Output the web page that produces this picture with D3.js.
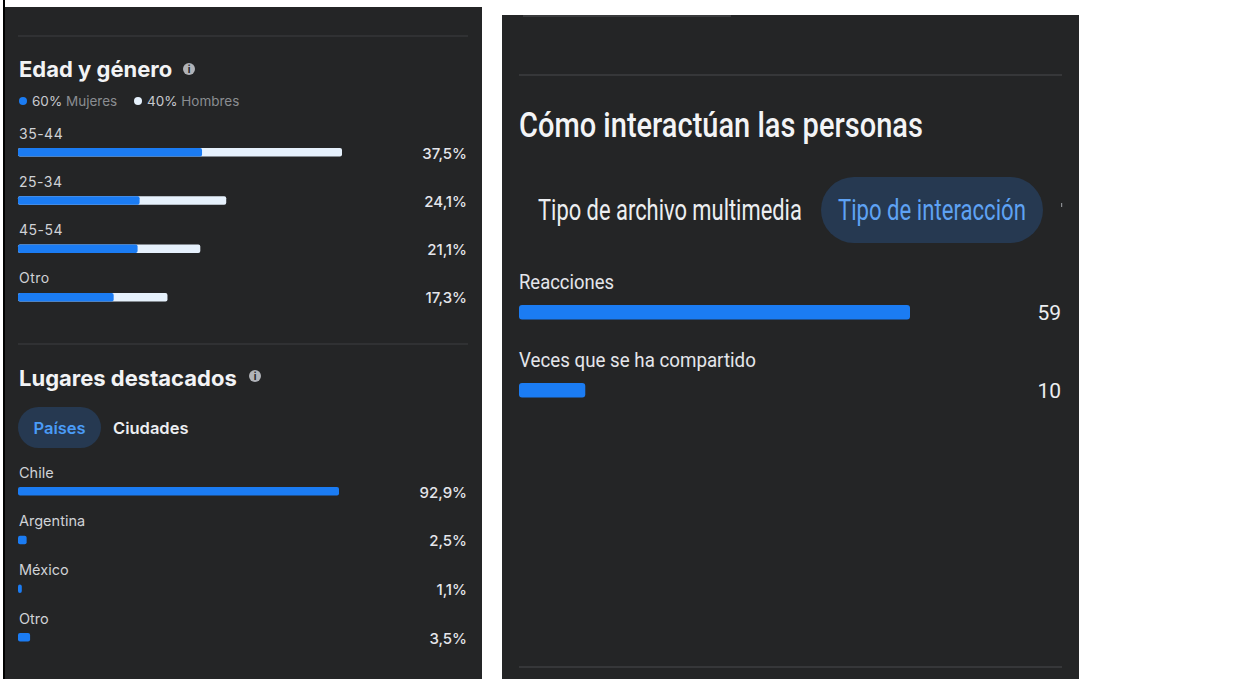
<!DOCTYPE html>
<html>
<head>
<meta charset="utf-8">
<script src="https://cdn.jsdelivr.net/npm/d3@7"></script>
<style>
	body { margin: 0; background: #fff; }
	svg { display: block; }
</style>
</head>
<body>
<script>
// datos
let ageGroups = ['35-44', '25-34', '45-54', 'Otro']
let agePct = [37.5, 24.1, 21.1, 17.3]
let ageWomenShare = [0.568, 0.584, 0.656, 0.64]
let genderLabels = ['Mujeres', 'Hombres']
let genderPct = [60, 40]

let countries = ['Chile', 'Argentina', 'México', 'Otro']
let countryPct = [92.9, 2.5, 1.1, 3.5]

let interactions = ['Reacciones', 'Veces que se ha compartido']
let interactionValues = [59, 10]

let W = 1249, H = 679
let blue = '#1b7cf3', light = '#e6f1fc', panel = '#242526'
let txt = '#e4e6eb', sep = '#3d3e40'
let pctFmt = v => d3.format('.1f')(v).replace('.', ',') + '%'

let svg = d3.select('body').append('svg')
	.attr('width', W)
	.attr('height', H)
svg.append('rect').attr('width', W).attr('height', H).attr('fill', '#fff')

// texto comprimido: se mide ya con su fuente y se escala en horizontal hasta el ancho leído
function squeeze(g, x, y, len, str, size, weight, fill) {
	let t = g.append('text')
		.attr('font-size', size)
		.attr('font-weight', weight)
		.attr('fill', fill)
		.text(str)
	let w = t.node().getComputedTextLength()
	t.attr('transform', `translate(${x},${y}) scale(${len / w},1)`)
	return t
}

// ---------- panel izquierdo ----------
svg.append('rect').attr('x', 3).attr('y', 0).attr('width', 2).attr('height', H).attr('fill', '#000')
let L = svg.append('g').style('font-family', 'Inter, "Noto Sans", sans-serif')
L.append('rect').attr('x', 5).attr('y', 7).attr('width', 477).attr('height', H - 7).attr('fill', panel)

L.selectAll('line.sep').data([36, 344]).join('line')
	.attr('x1', 18).attr('x2', 468).attr('y1', d => d).attr('y2', d => d)
	.attr('stroke', sep).attr('stroke-width', 1.2)

function infoIcon(g, cx, cy) {
	g.append('circle').attr('cx', cx).attr('cy', cy).attr('r', 6).attr('fill', '#b0b3b8')
	g.append('text').attr('x', cx).attr('y', cy + 4).attr('text-anchor', 'middle')
		.attr('font-size', 10).attr('font-weight', 700).attr('fill', panel).text('i')
}

L.append('text').attr('x', 19).attr('y', 77).attr('font-size', 22).attr('font-weight', 700)
	.attr('fill', '#f2f3f5').text('Edad y género')
infoIcon(L, 189, 69)

// leyenda
let legX = [23, 138]
let legColors = [blue, light]
genderLabels.forEach((name, i) => {
	L.append('circle').attr('cx', legX[i]).attr('cy', 101).attr('r', 4).attr('fill', legColors[i])
	let t = L.append('text').attr('x', legX[i] + 9).attr('y', 105.5).attr('font-size', 13.5)
	t.append('tspan').attr('fill', '#c8cacf').text(genderPct[i] + '% ')
	t.append('tspan').attr('fill', '#8a8d91').text(name)
})

// edad
let ageX = d3.scaleLinear().domain([0, d3.max(agePct)]).range([0, 324])
let ageY = d3.scaleBand().domain(ageGroups).range([125, 125 + 4 * 48.3])
let ageRows = L.selectAll('g.age').data(ageGroups.map((g, i) => ({ g, v: agePct[i], w: ageWomenShare[i] })))
	.join('g').attr('transform', d => `translate(0,${ageY(d.g)})`)
ageRows.append('text').attr('x', 19).attr('y', 13.5).attr('font-size', 14).attr('letter-spacing', 0.5)
	.attr('fill', '#d0d2d6').text(d => d.g)
ageRows.append('rect').attr('x', 18).attr('y', 23).attr('height', 8.5).attr('rx', 2)
	.attr('width', d => ageX(d.v)).attr('fill', light)
ageRows.append('rect').attr('x', 18).attr('y', 23).attr('height', 8.5).attr('rx', 2)
	.attr('width', d => ageX(d.v) * d.w).attr('fill', blue)
ageRows.append('text').attr('x', 467).attr('y', 33.5).attr('text-anchor', 'end').attr('font-size', 15)
	.attr('font-weight', 500).attr('fill', txt).text(d => pctFmt(d.v))

// lugares
L.append('text').attr('x', 19).attr('y', 386).attr('font-size', 22).attr('font-weight', 700)
	.attr('fill', '#f2f3f5').text('Lugares destacados')
infoIcon(L, 255, 376)
L.append('rect').attr('x', 18).attr('y', 407).attr('width', 83).attr('height', 41).attr('rx', 20.5).attr('fill', '#263951')
L.append('text').attr('x', 59.5).attr('y', 433.5).attr('text-anchor', 'middle').attr('font-size', 16.5)
	.attr('font-weight', 600).attr('fill', '#4a9cf7').text('Países')
L.append('text').attr('x', 113).attr('y', 433.5).attr('font-size', 16.5)
	.attr('font-weight', 600).attr('fill', '#eceef1').text('Ciudades')

let cX = d3.scaleLinear().domain([0, d3.max(countryPct)]).range([0, 321])
let cY = d3.scaleBand().domain(countries).range([464, 464 + 4 * 48.7])
let cRows = L.selectAll('g.country').data(countries.map((c, i) => ({ c, v: countryPct[i] })))
	.join('g').attr('transform', d => `translate(0,${cY(d.c)})`)
cRows.append('text').attr('x', 19).attr('y', 13.5).attr('font-size', 14.5)
	.attr('fill', '#d0d2d6').text(d => d.c)
cRows.append('rect').attr('x', 18).attr('y', 23).attr('height', 8.5).attr('rx', 2)
	.attr('width', d => Math.max(cX(d.v), 3.5)).attr('fill', blue)
cRows.append('text').attr('x', 467).attr('y', 33.5).attr('text-anchor', 'end').attr('font-size', 15)
	.attr('font-weight', 500).attr('fill', txt).text(d => pctFmt(d.v))

// ---------- panel derecho ----------
let R = svg.append('g').style('font-family', 'Roboto, "Noto Sans", sans-serif')
R.append('rect').attr('x', 502).attr('y', 15).attr('width', 577).attr('height', H - 15).attr('fill', panel)
R.append('rect').attr('x', 523).attr('y', 15).attr('width', 208).attr('height', 2).attr('fill', '#3a3b3d')
R.selectAll('line.sep').data([75, 667]).join('line')
	.attr('x1', 519).attr('x2', 1062).attr('y1', d => d).attr('y2', d => d)
	.attr('stroke', sep).attr('stroke-width', 1.5)

squeeze(R, 519, 137, 404, 'Cómo interactúan las personas', 35, 500, '#f3f4f6')

squeeze(R, 538, 220, 264, 'Tipo de archivo multimedia', 29, 400, '#eceef1')
R.append('rect').attr('x', 821).attr('y', 177).attr('width', 222).attr('height', 66).attr('rx', 33).attr('fill', '#263951')
squeeze(R, 838, 220, 188, 'Tipo de interacción', 29, 400, '#5ea2f4')
R.append('rect').attr('x', 1061).attr('y', 203).attr('width', 1.2).attr('height', 4).attr('fill', '#8a8d91')

let iX = d3.scaleLinear().domain([0, d3.max(interactionValues)]).range([0, 391])
let iY = d3.scaleBand().domain(interactions).range([270, 270 + 2 * 78])
let labelLen = [95, 237]
interactions.forEach((n, i) => {
	squeeze(R, 519, iY(n) + 19, labelLen[i], n, 21, 400, '#e4e6eb')
})
let iRows = R.selectAll('g.inter').data(interactions.map((n, i) => ({ n, v: interactionValues[i] })))
	.join('g').attr('transform', d => `translate(0,${iY(d.n)})`)
iRows.append('rect').attr('x', 519).attr('y', 35).attr('height', 14.5).attr('rx', 3)
	.attr('width', d => iX(d.v)).attr('fill', blue)
iRows.append('text').attr('x', 1061).attr('y', 50).attr('text-anchor', 'end').attr('font-size', 21)
	.attr('fill', '#eceef1').text(d => d.v)
</script>
</body>
</html>
